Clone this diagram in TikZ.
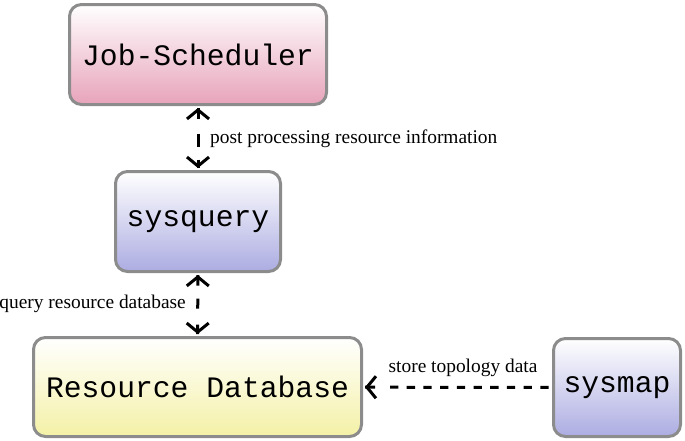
\documentclass[tikz,border=0pt]{standalone}
\usepackage{fontspec}
\setmainfont{Liberation Serif}
\setmonofont{Liberation Mono}
\usetikzlibrary{arrows.meta,positioning}
\definecolor{schedpink}{RGB}{231,163,186}
\definecolor{toolblue}{RGB}{172,172,226}
\definecolor{dbyellow}{RGB}{244,241,166}

\begin{document}
\begin{tikzpicture}[x=1pt,y=-1pt,
	box/.style={rectangle,rounded corners=12pt,draw=black!45,line width=3pt,inner sep=0pt,
		top color=white,bottom color=#1,font=\ttfamily\fontsize{29.7}{32}\selectfont},
	link/.style={line width=3pt,shorten <=2pt,shorten >=2pt},
	barb/.tip={Straight Barb[length=9pt,width=22pt]},
	tipends/.style={tips=true,line width=3pt,shorten <=2pt,shorten >=2pt,arrows={#1}},
	lbl/.style={font=\fontsize{19.4}{21}\selectfont,inner sep=0pt}]
	\useasboundingbox (0,0) rectangle (685,440);

	 \node at (198,54.5) [box=schedpink,minimum width=257pt,minimum height=100pt] (sched) {Job-Scheduler};
	 \node at (198,221.5) [box=toolblue,minimum width=165pt,minimum height=100pt] (sysquery) {sysquery};
	 \node at (197.5,387) [box=dbyellow,minimum width=328pt,minimum height=99pt] (resdb) {Resource Database};
	 \node at (617,387.5) [box=toolblue,minimum width=127pt,minimum height=98pt] (sysmap) {sysmap};

	 % dashed lines, then the solid tips on the same paths
	 \draw[link,dash pattern=on 10.5pt off 15pt on 13pt off 13pt on 12pt off 20pt] (sched) -- (sysquery);
	 \draw[link,dash pattern=on 10.5pt off 13pt on 10pt off 16pt on 12pt off 20pt] (sysquery) -- (resdb);
	 \draw[link,shorten >=0pt,dash pattern=on 10pt off 15pt on 8.3pt off 8.4pt on 8.3pt off 8.4pt
		on 8.3pt off 8.4pt on 8.3pt off 8.4pt on 8.3pt off 8.4pt on 8.3pt off 8.4pt on 8.3pt off 8.4pt
		on 8.3pt off 8.4pt on 8.3pt off 8.4pt on 8.3pt off 8.4pt on 8.3pt off 8.4pt] (resdb) -- (sysmap);
	 \path[tipends={barb-barb}] (sched) -- (sysquery);
	 \path[tipends={barb-barb}] (sysquery) -- (resdb);
	 \path[tipends={barb-}] (resdb) -- (sysmap);

	 \node at (210,143) [lbl,anchor=base west] (postlbl) {post processing resource information};
	 \node at (186,308) [lbl,anchor=base east] (querylbl) {query resource database};
	 \node at (463,372) [lbl,anchor=base] (storelbl) {store topology data};

\end{tikzpicture}
\end{document}
